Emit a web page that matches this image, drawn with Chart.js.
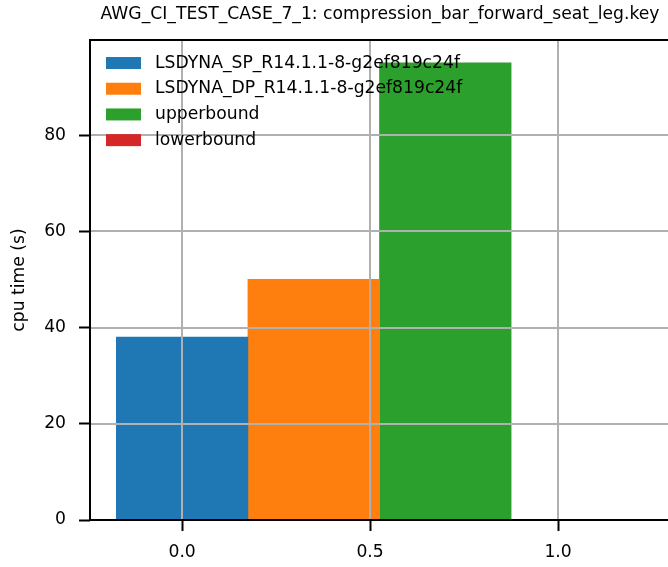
<!DOCTYPE html>
<html>
<head>
<meta charset="utf-8">
<script src="https://cdn.jsdelivr.net/npm/chart.js@4/dist/chart.umd.min.js"></script>
<style>
  html, body { margin: 0; padding: 0; background: #fff; overflow: hidden; }
  #wrap { width: 760px; height: 567px; }
</style>
</head>
<body>
<div id="wrap"><canvas id="grafico"></canvas></div>
<script>
const titulo = "AWG_CI_TEST_CASE_7_1: compression_bar_forward_seat_leg.key";
const rotuloY = "cpu time (s)";
const series = ["LSDYNA_SP_R14.1.1-8-g2ef819c24f", "LSDYNA_DP_R14.1.1-8-g2ef819c24f", "upperbound", "lowerbound"];
const posicoes = [0, 0.35, 0.7, 1.05];
const tempos = [38, 50, 95, 0];
const cores = ["#1f77b4", "#ff7f0e", "#2ca02c", "#d62728"];
const xTicks = [0, 0.5, 1.0];
const yTicks = [0, 20, 40, 60, 80];

const FONTE = "DejaVu Sans";
const TAM = 17.2;

// grade, bordas, legenda e rótulo do eixo y por cima das barras
const porCima = {
  id: "porCima",
  afterDatasetsDraw(chart) {
    const { ctx, chartArea: a, scales: { x, y } } = chart;
    const linha = (x1, y1, x2, y2) => {
      ctx.beginPath(); ctx.moveTo(x1, y1); ctx.lineTo(x2, y2); ctx.stroke();
    };
    ctx.save();
    ctx.strokeStyle = "#b0b0b0";
    ctx.lineWidth = 2;
    xTicks.forEach(v => {
      const px = Math.round(x.getPixelForValue(v));
      linha(px, a.top, px, a.bottom);
    });
    yTicks.forEach(v => {
      if (v === 0) return;
      const py = Math.round(y.getPixelForValue(v));
      linha(a.left, py, a.right, py);
    });

    ctx.strokeStyle = "#000";
    ctx.lineWidth = 2;
    linha(a.left, a.top, a.right, a.top);
    linha(a.left, a.top - 1, a.left, a.bottom + 1);
    linha(a.left - 1, a.bottom, a.right, a.bottom);

    // legenda
    ctx.font = TAM + "px '" + FONTE + "'";
    ctx.textBaseline = "middle";
    ctx.textAlign = "left";
    chart.data.datasets.forEach((ds, i) => {
      const cy = a.top + 23 + i * 25.7;
      ctx.fillStyle = ds.backgroundColor;
      ctx.fillRect(a.left + 16, cy - 6, 35, 12);
      ctx.fillStyle = "#000";
      ctx.fillText(ds.label, a.left + 65, cy);
    });

    // rótulo do eixo y
    ctx.translate(20, (a.top + a.bottom) / 2);
    ctx.rotate(-Math.PI / 2);
    ctx.textAlign = "center";
    ctx.fillText(rotuloY, 0, 0);
    ctx.restore();
  }
};

const datasets = series.map((nome, i) => ({
  label: nome,
  data: [{ x: posicoes[i], y: tempos[i] }],
  backgroundColor: cores[i],
  borderWidth: 0,
  grouped: false,
  barPercentage: 1,
  categoryPercentage: 1
}));

new Chart(document.getElementById("grafico"), {
  type: "bar",
  data: { datasets },
  options: {
    responsive: true,
    maintainAspectRatio: false,
    animation: false,
    layout: { padding: 0 },
    plugins: {
      legend: { display: false },
      tooltip: { enabled: false },
      title: {
        display: true,
        text: titulo,
        color: "#000",
        font: { family: FONTE, size: TAM, weight: "normal" },
        padding: { top: 4, bottom: 15.4 }
      }
    },
    scales: {
      x: {
        type: "linear",
        offset: false,
        min: -0.245,
        max: 1.537,
        afterFit: s => { s.height = 47; },
        afterBuildTicks: s => { s.ticks = xTicks.map(v => ({ value: v })); },
        grid: { offset: false, drawOnChartArea: false, drawTicks: true, tickLength: 11, tickColor: "#000", tickWidth: 2 },
        border: { display: false },
        ticks: {
          color: "#000",
          font: { family: FONTE, size: TAM },
          padding: 11,
          maxRotation: 0,
          callback: v => Number(v).toFixed(1)
        }
      },
      y: {
        min: 0,
        max: 99.75,
        afterFit: s => { s.width = 90; },
        afterBuildTicks: s => { s.ticks = yTicks.map(v => ({ value: v })); },
        grid: { drawOnChartArea: false, drawTicks: true, tickLength: 11, tickColor: "#000", tickWidth: 2 },
        border: { display: false },
        ticks: {
          color: "#000",
          font: { family: FONTE, size: TAM },
          padding: 13
        }
      }
    }
  },
  plugins: [porCima]
});
</script>
</body>
</html>
